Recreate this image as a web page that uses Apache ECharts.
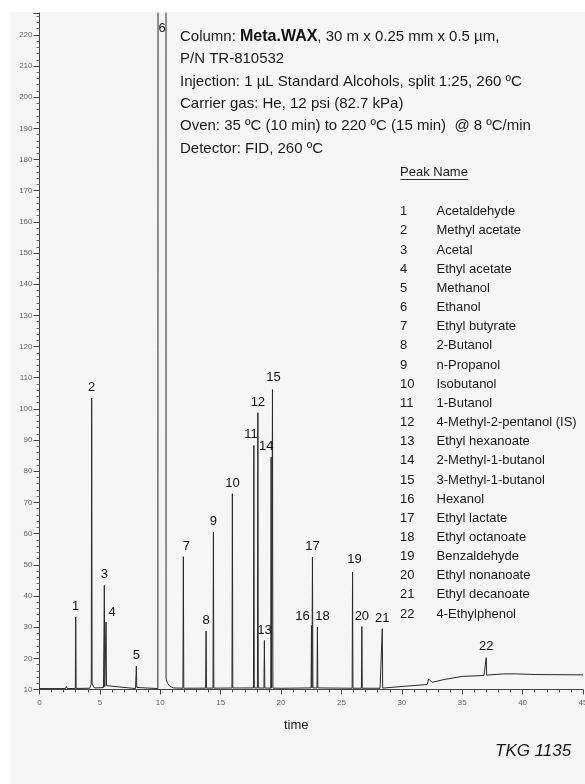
<!DOCTYPE html>
<html><head><meta charset="utf-8">
<script src="https://cdn.jsdelivr.net/npm/echarts@6/dist/echarts.min.js"></script>
<style>html,body{margin:0;padding:0;background:#fff;}#c{width:585px;height:784px;}</style>
</head><body><div id="c"></div>
<script>
// ---- data ----
const peakNumbers = [1,2,3,4,5,6,7,8,9,10,11,12,13,14,15,16,17,18,19,20,21,22];
const peakTimes   = [3.00,4.32,5.37,5.51,8.02,9.84,11.91,13.79,14.40,15.97,17.75,18.08,18.62,19.18,19.29,22.52,22.60,23.01,25.92,26.69,28.38,36.99];
const peakHeights = [33.2,103.5,43.4,31.6,17.5,600,52.6,28.7,60.5,72.8,88.3,98.8,25.7,84.5,106.2,30.5,52.5,30.0,47.7,30.2,29.5,20.2];
const peak6End = 10.46;
const peakNames = ["Acetaldehyde","Methyl acetate","Acetal","Ethyl acetate","Methanol","Ethanol","Ethyl butyrate","2-Butanol","n-Propanol","Isobutanol","1-Butanol","4-Methyl-2-pentanol (IS)","Ethyl hexanoate","2-Methyl-1-butanol","3-Methyl-1-butanol","Hexanol","Ethyl lactate","Ethyl octanoate","Benzaldehyde","Ethyl nonanoate","Ethyl decanoate","4-Ethylphenol"];
const baselineTimes  = [0,2.15,2.22,2.30,4.15,4.32,4.55,5.30,5.65,7.95,8.10,9.80,10.48,10.60,10.80,11.10,12.0,17.5,20.0,22.3,23.3,26.0,28.2,28.6,30.1,32.1,32.22,32.5,33.5,35.0,36.8,37.3,38.4,39.5,41.1,45];
const baselineValues = [10.3,10.3,11.0,10.3,10.4,12.0,10.5,10.6,11.5,10.3,10.8,10.3,13.4,12.0,11.0,10.5,10.4,10.5,10.4,10.5,10.5,10.4,10.4,10.5,11.0,11.6,13.4,12.3,13.2,14.2,14.5,14.7,15.0,15.0,14.8,14.7];
const xTickLabels = [0,5,10,15,20,25,30,35,40,45];
const yMin = 10, yMax = 227;
const headerLines = [
  ["Column: ", "Meta.WAX", ", 30 m x 0.25 mm x 0.5 µm,"],
  ["P/N TR-810532"],
  ["Injection: 1 µL Standard Alcohols, split 1:25, 260 ºC"],
  ["Carrier gas: He, 12 psi (82.7 kPa)"],
  ["Oven: 35 ºC (10 min) to 220 ºC (15 min)  @ 8 ºC/min"],
  ["Detector: FID, 260 ºC"]
];
const legendTitle = "Peak Name";
const axisTitle = "time";
const footnote = "TKG 1135";

// ---- build chromatogram trace ----
function baseAt(t){
  for (let i=0;i<baselineTimes.length-1;i++){
    if (t>=baselineTimes[i] && t<=baselineTimes[i+1]){
      const f=(t-baselineTimes[i])/(baselineTimes[i+1]-baselineTimes[i]);
      return baselineValues[i]+f*(baselineValues[i+1]-baselineValues[i]);
    }
  }
  return baselineValues[baselineValues.length-1];
}
const half = 0.035;
const idx6 = peakNumbers.indexOf(6);
const trace = [];
baselineTimes.forEach((t,i)=>{
  let inside = false;
  peakTimes.forEach((tp,k)=>{
    const end = k===idx6 ? peak6End : tp;
    if (t > tp-half-0.001 && t < end+half+0.001) inside = true;
  });
  if (!inside) trace.push([t, baselineValues[i]]);
});
peakTimes.forEach((tp,k)=>{
  if (k===idx6){
    trace.push([tp-half, baseAt(tp-half)],[tp, peakHeights[k]],[peak6End, peakHeights[k]],[peak6End+0.02, baseAt(peak6End+0.02)]);
  } else {
    trace.push([tp-half, baseAt(tp-half)],[tp, peakHeights[k]],[tp+half, baseAt(tp+half)]);
  }
});
trace.sort((a,b)=>a[0]-b[0]);

// label nudges (px)
const nudge = {4:[6,1],7:[3,0],11:[-3,0],14:[-5,0],15:[1,-2],16:[-9,1],18:[5,0],19:[2,-2],22:[0,-1]};
const labelData = peakNumbers.map((n,k)=>{
  if (k===idx6){
    return {value:[(peakTimes[k]+peak6End)/2, yMax], label:{position:'bottom', distance:9}, num:n};
  }
  const o = nudge[n]||[0,0];
  return {value:[peakTimes[k], peakHeights[k]], label:{offset:o}, num:n};
});

const font = "'Liberation Sans', Arial, sans-serif";
const graphics = [
  {type:'rect', z:-10, shape:{x:10,y:12,width:575,height:772}, style:{fill:'#f5f6f5'}, silent:true}
];
// header
graphics.push({
  type:'text', left:180, top:25.5,
  style:{
    text: headerLines.map((l,i)=> i===0 ? `{n|${l[0]}}{b|${l[1]}}{n|${l[2]}}` : `{n|${l[0]}}`).join('\n'),
    rich:{ n:{fontFamily:font,fontSize:15,fill:'#1a1a1a',lineHeight:22.4},
           b:{fontFamily:font,fontSize:16,fontWeight:'bold',fill:'#111',lineHeight:22.4}},
    fontFamily:font, fontSize:15, fill:'#1a1a1a', lineHeight:22.4
  }
});
// legend
graphics.push({type:'text', left:400, top:166, style:{text:legendTitle, fontFamily:font, fontSize:13, fill:'#1a1a1a'}});
graphics.push({type:'line', shape:{x1:400.5,y1:179.5,x2:468,y2:179.5}, style:{stroke:'#333',lineWidth:1}});
peakNames.forEach((nm,i)=>{
  const yc = 210.7 + i*19.16;
  graphics.push({type:'text', left:400, top:yc-5.5, style:{text:String(peakNumbers[i]), fontFamily:font, fontSize:13, fill:'#1a1a1a'}});
  graphics.push({type:'text', left:436.5, top:yc-5.5, style:{text:nm, fontFamily:font, fontSize:13, fill:'#1a1a1a'}});
});
graphics.push({type:'text', left:495, top:743, style:{text:footnote, fontFamily:font, fontSize:17, fontStyle:'italic', fill:'#1a1a1a'}});

const chart = echarts.init(document.getElementById('c'), null, {renderer:'canvas'});
chart.setOption({
  animation:false,
  backgroundColor:'#ffffff',
  textStyle:{fontFamily:font},
  grid:{left:39.5, right:2, top:13, bottom:94.5, containLabel:false, outerBoundsMode:'none'},
  xAxis:{
    type:'value', min:0, max:45, interval:5,
    name:axisTitle, nameLocation:'middle', nameGap:29,
    nameTextStyle:{fontFamily:font, fontSize:13, color:'#1a1a1a', padding:[0,30,0,0]},
    axisLine:{lineStyle:{color:'#444', width:1}},
    axisTick:{show:true, length:5, lineStyle:{color:'#444'}},
    minorTick:{show:true, splitNumber:5, length:3, lineStyle:{color:'#555'}},
    axisLabel:{fontFamily:font, fontSize:8, color:'#666', margin:9,
      formatter:(v)=> xTickLabels.includes(v) ? String(v) : ''},
    splitLine:{show:false}
  },
  yAxis:{
    type:'value', min:yMin, max:yMax, interval:10,
    axisLine:{show:true, lineStyle:{color:'#444', width:1}},
    axisTick:{show:true, length:6, lineStyle:{color:'#444'}},
    minorTick:{show:true, splitNumber:5, length:3, lineStyle:{color:'#666'}},
    axisLabel:{fontFamily:font, fontSize:8, color:'#666', margin:7, showMaxLabel:false},
    splitLine:{show:false}
  },
  series:[
    {type:'line', data:trace, showSymbol:false, symbol:'none', clip:true,
     lineStyle:{color:'#2a2a2a', width:1}, z:3, silent:true},
    {type:'scatter', data:labelData, symbolSize:0, z:4, silent:true,
     itemStyle:{opacity:1},
     label:{show:true, position:'top', distance:4, fontFamily:font, fontSize:13, color:'#111', opacity:1,
       formatter:(p)=> String(p.data.num)}}
  ],
  graphic: graphics
});
</script></body></html>
